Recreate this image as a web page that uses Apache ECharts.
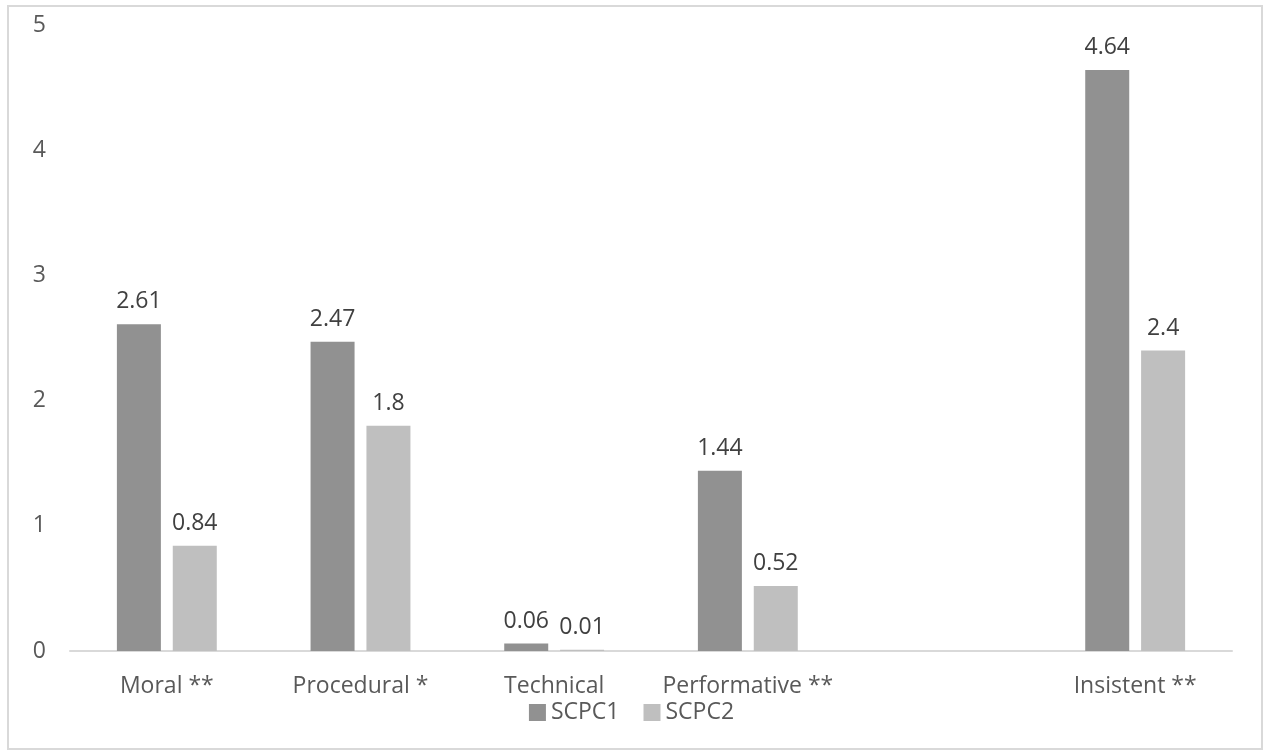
<!DOCTYPE html>
<html>
<head>
<meta charset="utf-8">
<script src="https://cdn.jsdelivr.net/npm/echarts@6/dist/echarts.min.js"></script>
<style>
  html, body { margin: 0; padding: 0; background: #fff; }
  #chart { width: 1263px; height: 753px; }
</style>
</head>
<body>
<div id="chart"></div>
<script>
// Categories (the blank slot keeps the wider gap before "Insistent **")
const categories = ['Moral **', 'Procedural *', 'Technical', 'Performative **', '', 'Insistent **'];
const seriesNames = ['SCPC1', 'SCPC2'];
const scpc1 = [2.61, 2.47, 0.06, 1.44, null, 4.64];
const scpc2 = [0.84, 1.8, 0.01, 0.52, null, 2.4];
const yTicks = [0, 1, 2, 3, 4, 5];

const FONT = '"Open Sans", "DejaVu Sans", sans-serif';
const FONT_SIZE = 23;
const colors = ['#919191', '#bfbfbf'];

const chart = echarts.init(document.getElementById('chart'), null, { renderer: 'canvas' });

function barSeries(name, data, color) {
  return {
    name: name,
    type: 'bar',
    data: data,
    barWidth: 44,
    barGap: '27%',
    itemStyle: { color: color },
    label: {
      show: true,
      position: 'top',
      distance: 11,
      color: '#404040',
      fontFamily: FONT,
      fontSize: FONT_SIZE,
      formatter: p => (p.value == null ? '' : String(p.value))
    }
  };
}

chart.setOption({
  animation: false,
  color: colors,
  textStyle: { fontFamily: FONT },
  graphic: [{
    type: 'rect',
    shape: { x: 8, y: 6, width: 1254, height: 743 },
    style: { fill: 'none', stroke: '#d9d9d9', lineWidth: 2 },
    z: -1
  }],
  grid: { left: 70, right: 31, top: 25, bottom: 102, containLabel: false },
  legend: {
    data: seriesNames,
    bottom: 24,
    left: 'center',
    itemWidth: 17,
    itemHeight: 17,
    itemGap: 24,
    icon: 'rect',
    textStyle: { color: '#595959', fontFamily: FONT, fontSize: FONT_SIZE }
  },
  xAxis: {
    type: 'category',
    data: categories,
    axisLine: { lineStyle: { color: '#d9d9d9', width: 2 } },
    axisTick: { show: false },
    axisLabel: { color: '#595959', fontFamily: FONT, fontSize: FONT_SIZE, margin: 24, interval: 0 }
  },
  yAxis: {
    type: 'value',
    min: yTicks[0],
    max: yTicks[yTicks.length - 1],
    interval: 1,
    axisLine: { show: false },
    axisTick: { show: false },
    splitLine: { show: false },
    axisLabel: { color: '#595959', fontFamily: FONT, fontSize: FONT_SIZE, margin: 24 }
  },
  series: [
    barSeries(seriesNames[0], scpc1, colors[0]),
    barSeries(seriesNames[1], scpc2, colors[1])
  ]
});
</script>
</body>
</html>
